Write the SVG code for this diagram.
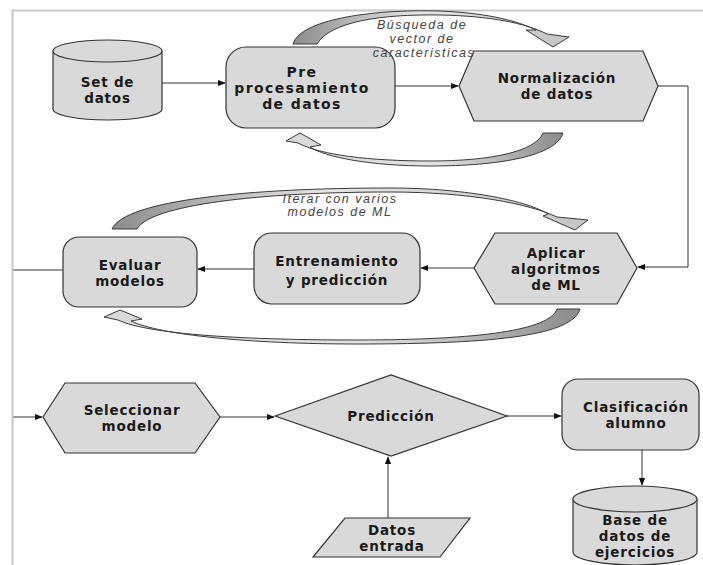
<svg xmlns="http://www.w3.org/2000/svg" width="703" height="565" viewBox="0 0 703 565">
  <defs>
    <marker id="arrow" viewBox="0 0 10 10" refX="9" refY="5" markerWidth="8" markerHeight="8" markerUnits="userSpaceOnUse" orient="auto">
      <path d="M0,1 L10,5 L0,9 Z" fill="#111"/>
    </marker>
    <!-- shading for the curved loop arrows: darker at the tail, pale toward the head -->
    <linearGradient id="loopR" gradientUnits="objectBoundingBox" x1="0" y1="0" x2="1" y2="0">
      <stop offset="0" stop-color="#8c8c8c"/>
      <stop offset="0.45" stop-color="#e6e6e6"/>
      <stop offset="1" stop-color="#c4c4c4"/>
    </linearGradient>
    <linearGradient id="loopL" gradientUnits="objectBoundingBox" x1="1" y1="0" x2="0" y2="0">
      <stop offset="0" stop-color="#8a8a8a"/>
      <stop offset="0.45" stop-color="#e2e2e2"/>
      <stop offset="1" stop-color="#d8d8d8"/>
    </linearGradient>
  </defs>
  <style>
    .shape { fill: #d9d9d9; stroke: #333; stroke-width: 1.2; }
    .label { font-family: "DejaVu Sans", Verdana, sans-serif; font-weight: bold; font-size: 13.5px; letter-spacing: 0.8px; fill: #1a1a1a; text-anchor: middle; }
    .wide { font-size: 14px; letter-spacing: 1.4px; }
    .note { font-family: "Liberation Sans", Arial, sans-serif; font-style: italic; font-size: 12.5px; fill: #444; text-anchor: middle; letter-spacing: 1.5px; }
    .link { fill: none; stroke: #333; stroke-width: 1; }
    .loop { stroke: #3a3a3a; stroke-width: 1; stroke-linejoin: round; }
    .frame { fill: none; stroke: #c8c8c8; stroke-width: 2; }
  </style>

  <rect width="703" height="565" fill="#fff"/>

  <!-- connectors -->
  <g id="connectors">
    <path class="link" d="M162,83 H225" marker-end="url(#arrow)"/>
    <path class="link" d="M395,86 H458" marker-end="url(#arrow)"/>
    <path class="link" d="M658,86 H688 V267 H638" marker-end="url(#arrow)"/>
    <path class="link" d="M474,268 H421" marker-end="url(#arrow)"/>
    <path class="link" d="M254,269 H198" marker-end="url(#arrow)"/>
    <path class="link" d="M63,270 H12.5 V417 H42" marker-end="url(#arrow)"/>
    <path class="link" d="M220,417 H274" marker-end="url(#arrow)"/>
    <path class="link" d="M507,416 H561" marker-end="url(#arrow)"/>
    <path class="link" d="M642,450 V485" marker-end="url(#arrow)"/>
    <path class="link" d="M388,518 V457" stroke="#777" marker-end="url(#arrow)"/>
  </g>

  <!-- page frame -->
  <path class="frame" d="M12.5,565 V10.5 H703"/>

  <!-- curved loop arrows -->
  <g id="loops">
    <path class="loop" fill="url(#loopR)" d="M293,44 C300,20 370,9 440,11 C490,13 520,22 536,30 L526,30 L553,47 L569,37 L547,34 C525,23 490,16 440,15 C380,14 330,22 317,44 Z"/>
    <path class="loop" fill="url(#loopL)" d="M563,133 C556,156 500,166 430,166 C370,166 325,157 310,147 L321,145 L300,133 L286,141 L298,143 C320,155 370,161 430,161 C490,161 535,152 543,133 Z"/>
    <path class="loop" fill="url(#loopR)" d="M112,229 C125,200 250,188 390,188 C470,188 530,202 548,214 L543,216 L575,230 L588,220 L557,217 C530,204 470,192 390,192 C260,192 150,205 137,229 Z"/>
    <path class="loop" fill="url(#loopL)" d="M580,309 C572,335 500,344 357,344 C250,344 160,335 131,321 L142,319 L120,310 L104,317 L118,320 C150,335 250,340 357,340 C480,340 550,330 557,309 Z"/>
  </g>

  <g id="set-datos">
    <path class="shape" d="M53,51 A54.5,11 0 0 1 162,51 V109 A54.5,11 0 0 1 53,109 Z"/>
    <path class="shape" fill="none" d="M53,51 A54.5,11 0 0 0 162,51"/>
    <text class="label"><tspan x="107.5" y="86.5">Set de</tspan><tspan x="107.5" y="102.5">datos</tspan></text>
  </g>

  <g id="preprocesamiento">
    <rect class="shape" x="226" y="47" width="169" height="81" rx="20"/>
    <text class="label wide"><tspan x="302" y="77">Pre</tspan><tspan x="302" y="93">procesamiento</tspan><tspan x="302" y="109">de datos</tspan></text>
  </g>

  <g id="normalizacion">
    <polygon class="shape" points="459,86 474,51 643,51 658,86 643,121 474,121"/>
    <text class="label"><tspan x="557" y="83">Normalización</tspan><tspan x="557" y="99">de datos</tspan></text>
  </g>

  <g id="aplicar">
    <polygon class="shape" points="474,268 495,233 617,233 637,268 617,304 495,304"/>
    <text class="label"><tspan x="556" y="257.5">Aplicar</tspan><tspan x="556" y="273.5">algoritmos</tspan><tspan x="556" y="289.5">de ML</tspan></text>
  </g>

  <g id="entrenamiento">
    <rect class="shape" x="254" y="233" width="166" height="71" rx="18"/>
    <text class="label"><tspan x="337" y="265.5">Entrenamiento</tspan><tspan x="337" y="284.5">y predicción</tspan></text>
  </g>

  <g id="evaluar">
    <rect class="shape" x="63" y="237" width="134" height="70" rx="16"/>
    <text class="label"><tspan x="130" y="269.5">Evaluar</tspan><tspan x="130" y="285.5">modelos</tspan></text>
  </g>

  <g id="seleccionar">
    <polygon class="shape" points="43,417 65,383 195,383 220,417 195,453 65,453"/>
    <text class="label"><tspan x="132" y="414.5">Seleccionar</tspan><tspan x="132" y="430.5">modelo</tspan></text>
  </g>

  <g id="prediccion">
    <polygon class="shape" points="275,416 391,375 507,416 391,456"/>
    <text class="label" x="391" y="421">Predicción</text>
  </g>

  <g id="clasificacion">
    <rect class="shape" x="562" y="379" width="137" height="71" rx="16"/>
    <text class="label"><tspan x="636" y="412">Clasificación</tspan><tspan x="636" y="428">alumno</tspan></text>
  </g>

  <g id="base-ejercicios">
    <path class="shape" d="M573,499 A62,13 0 0 1 697,499 V552 A62,13 0 0 1 573,552 Z"/>
    <path class="shape" fill="none" d="M573,499 A62,13 0 0 0 697,499"/>
    <text class="label"><tspan x="635" y="525">Base de</tspan><tspan x="635" y="541">datos de</tspan><tspan x="635" y="557">ejercicios</tspan></text>
  </g>

  <g id="datos-entrada">
    <polygon class="shape" points="345,518 470,518 440,557 313,557"/>
    <text class="label"><tspan x="392" y="535">Datos</tspan><tspan x="392" y="551">entrada</tspan></text>
  </g>

  <!-- loop captions sit above the boxes they cross -->
  <g id="loop-notes">
    <text class="note"><tspan x="422" y="29">Búsqueda de</tspan><tspan x="422" y="43">vector de</tspan><tspan x="424" y="57">caracteristicas</tspan></text>
    <text class="note"><tspan x="340" y="203">Iterar con varios</tspan><tspan x="340" y="216">modelos de ML</tspan></text>
  </g>
</svg>
